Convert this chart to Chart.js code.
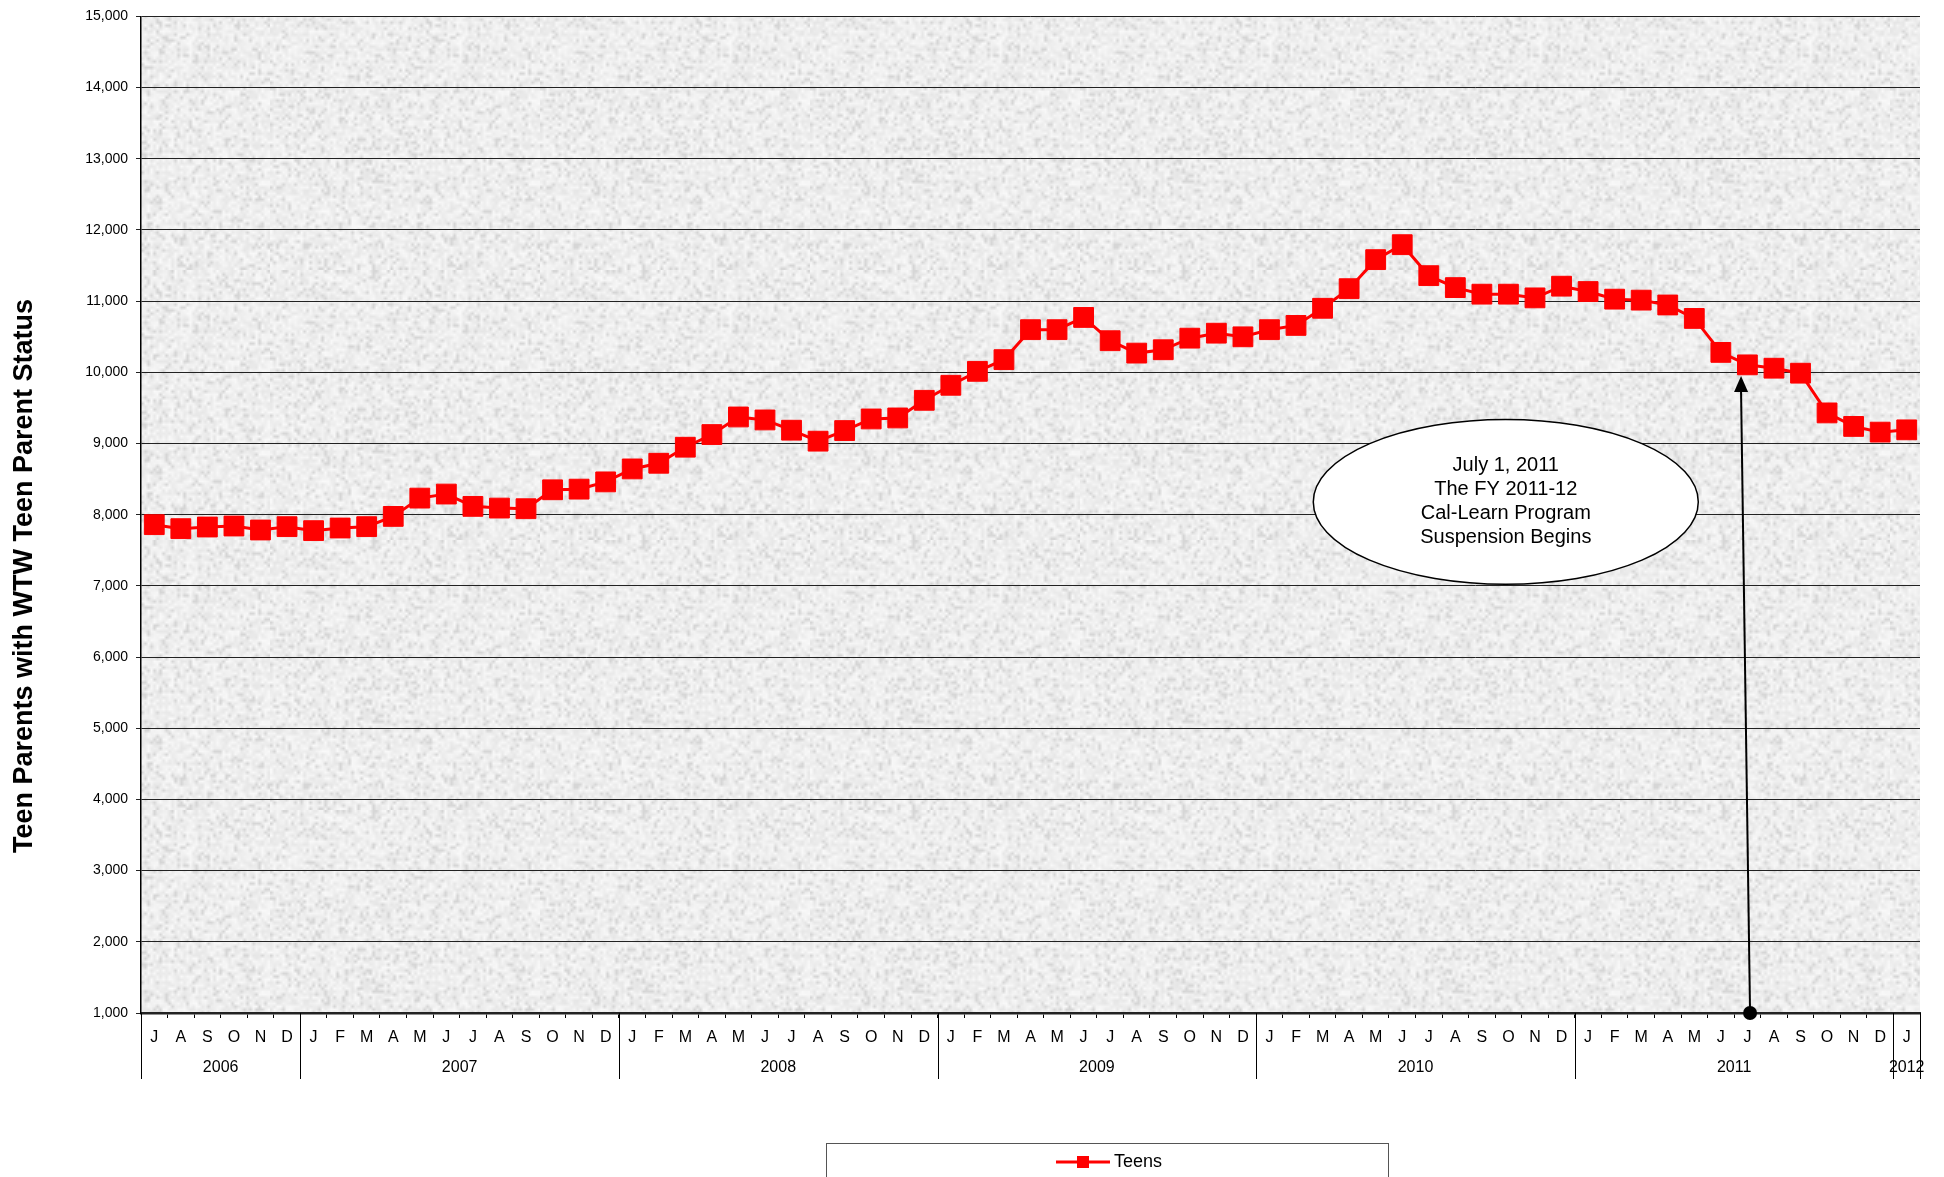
<!DOCTYPE html>
<html>
<head>
<meta charset="utf-8">
<script src="https://cdn.jsdelivr.net/npm/chart.js@4.4.1/dist/chart.umd.min.js"></script>
<style>
  html, body { margin: 0; padding: 0; background: #fff; overflow: hidden; }
  #wrap { width: 1944px; height: 1177px; }
</style>
</head>
<body>
<div id="wrap"><canvas id="myChart" width="1944" height="1177"></canvas></div>
<script>
// month letters, Jul 2006 .. Jan 2012
const months = [
  "J","A","S","O","N","D",
  "J","F","M","A","M","J","J","A","S","O","N","D",
  "J","F","M","A","M","J","J","A","S","O","N","D",
  "J","F","M","A","M","J","J","A","S","O","N","D",
  "J","F","M","A","M","J","J","A","S","O","N","D",
  "J","F","M","A","M","J","J","A","S","O","N","D",
  "J"
];
const years = ["2006", "2007", "2008", "2009", "2010", "2011", "2012"];
const monthsInYear = [6, 12, 12, 12, 12, 12, 1];

const teens = [
  7860, 7804, 7827, 7841, 7785, 7832,
  7776, 7813, 7832, 7976, 8233, 8290, 8117, 8093, 8084, 8350, 8359, 8461,
  8643, 8723, 8948, 9126, 9373, 9331, 9187, 9033, 9182, 9345, 9359, 9607,
  9818, 10014, 10178, 10599, 10599, 10771, 10444, 10270, 10317, 10480, 10550, 10499,
  10599, 10659, 10900, 11175, 11583, 11793, 11358, 11190, 11098, 11098, 11046, 11210,
  11135, 11028, 11014, 10946, 10757, 10280, 10105, 10058, 9988, 9430, 9240, 9160,
  9192
];

const yMin = 1000, yMax = 15000, yStep = 1000;

const noteLines = ["July 1, 2011", "The FY 2011-12", "Cal-Learn Program", "Suspension Begins"];
const notePos = { x: 50.9, y: 8180, rx: 7.25, ry: 1157 };   // ellipse centre / radii in data units
const arrowFrom = { x: 60.1, y: 1000 };
const arrowTo = { x: 59.76, y: 9950 };

const FONT = "'Liberation Sans', Arial, sans-serif";

// grey granite-ish texture for the plot area
function makeTexture() {
  const small = document.createElement("canvas");
  small.width = 90; small.height = 90;
  const g = small.getContext("2d");
  const img = g.createImageData(90, 90);
  let s = 98765;
  const next = () => { s = (s * 1103515245 + 12345) & 0x7fffffff; return s / 0x7fffffff; };
  for (let i = 0; i < 90 * 90; i++) {
    const r = next();
    const v = Math.round(238 + (r - 0.5) * 22 - (r < 0.12 ? 14 : 0));
    img.data[i * 4] = v; img.data[i * 4 + 1] = v; img.data[i * 4 + 2] = v; img.data[i * 4 + 3] = 255;
  }
  g.putImageData(img, 0, 0);
  const big = document.createElement("canvas");
  big.width = 270; big.height = 270;
  const bg = big.getContext("2d");
  bg.imageSmoothingEnabled = true;
  bg.drawImage(small, 0, 0, 270, 270);
  return big;
}
const texture = makeTexture();

const backgroundPlugin = {
  id: "plotBackground",
  beforeDraw(chart) {
    const { ctx, chartArea: a } = chart;
    ctx.save();
    ctx.fillStyle = ctx.createPattern(texture, "repeat");
    ctx.fillRect(a.left, a.top, a.right - a.left, a.bottom - a.top);
    ctx.restore();
  }
};

const notePlugin = {
  id: "note",
  afterDatasetsDraw(chart) {
    const { ctx } = chart;
    const x = chart.scales.x, y = chart.scales.y;

    // arrow from axis up to the July 2011 point
    const bx = x.getPixelForValue(arrowFrom.x), by = y.getPixelForValue(arrowFrom.y);
    const tx = x.getPixelForValue(arrowTo.x), ty = y.getPixelForValue(arrowTo.y);
    ctx.save();
    ctx.strokeStyle = "#000";
    ctx.fillStyle = "#000";
    ctx.lineWidth = 2;
    ctx.beginPath();
    ctx.moveTo(bx, by);
    ctx.lineTo(tx, ty + 14);
    ctx.stroke();
    ctx.beginPath();
    ctx.moveTo(tx, ty);
    ctx.lineTo(tx - 7, ty + 16);
    ctx.lineTo(tx + 7, ty + 16);
    ctx.closePath();
    ctx.fill();
    ctx.beginPath();
    ctx.arc(bx, by, 7, 0, Math.PI * 2);
    ctx.fill();

    // the callout ellipse
    const cx = x.getPixelForValue(notePos.x);
    const cy = y.getPixelForValue(notePos.y);
    const rx = Math.abs(x.getPixelForValue(notePos.x + notePos.rx) - cx);
    const ry = Math.abs(y.getPixelForValue(notePos.y + notePos.ry) - cy);
    ctx.beginPath();
    ctx.ellipse(cx, cy, rx, ry, 0, 0, Math.PI * 2);
    ctx.fillStyle = "#fff";
    ctx.fill();
    ctx.lineWidth = 1.5;
    ctx.stroke();
    ctx.fillStyle = "#000";
    ctx.font = "20px " + FONT;
    ctx.textAlign = "center";
    ctx.textBaseline = "middle";
    const lh = 24;
    noteLines.forEach((t, i) => {
      ctx.fillText(t, cx, cy + (i - (noteLines.length - 1) / 2) * lh);
    });
    ctx.restore();
  }
};

const axisExtrasPlugin = {
  id: "axisExtras",
  afterDraw(chart) {
    const { ctx, chartArea: a } = chart;
    const x = chart.scales.x;
    const half = (x.getPixelForValue(1) - x.getPixelForValue(0)) / 2;
    const lineBottom = a.bottom + 66;
    ctx.save();
    ctx.strokeStyle = "#000";
    ctx.lineWidth = 1;
    ctx.fillStyle = "#000";
    ctx.font = "16px " + FONT;
    ctx.textAlign = "center";
    ctx.textBaseline = "middle";
    let idx = 0;
    const edges = [x.getPixelForValue(0) - half];
    years.forEach((yr, i) => {
      const first = idx, last = idx + monthsInYear[i] - 1;
      const l = x.getPixelForValue(first) - half;
      const r = x.getPixelForValue(last) + half;
      edges.push(r);
      ctx.fillText(yr, (l + r) / 2, a.bottom + 55);
      idx += monthsInYear[i];
    });
    edges.forEach(px => {
      ctx.beginPath();
      ctx.moveTo(Math.round(px) + 0.5, a.bottom);
      ctx.lineTo(Math.round(px) + 0.5, lineBottom);
      ctx.stroke();
    });

    // y axis title
    ctx.save();
    ctx.translate(25, 576);
    ctx.rotate(-Math.PI / 2);
    ctx.font = "bold 27px " + FONT;
    ctx.fillText("Teen Parents with WTW Teen Parent Status", 0, 0);
    ctx.restore();

    // legend box (runs off the bottom of the picture)
    ctx.lineWidth = 1;
    ctx.strokeStyle = "#555";
    ctx.strokeRect(826.5, 1143.5, 562, 60);
    ctx.strokeStyle = "#ff0000";
    ctx.lineWidth = 3;
    ctx.beginPath();
    ctx.moveTo(1056, 1162);
    ctx.lineTo(1110, 1162);
    ctx.stroke();
    ctx.fillStyle = "#ff0000";
    ctx.fillRect(1077, 1156, 12, 12);
    ctx.fillStyle = "#000";
    ctx.font = "18px " + FONT;
    ctx.textAlign = "left";
    ctx.fillText("Teens", 1114, 1162);
    ctx.restore();
  }
};

new Chart(document.getElementById("myChart"), {
  type: "line",
  data: {
    labels: months,
    datasets: [{
      label: "Teens",
      data: teens,
      borderColor: "#ff0000",
      backgroundColor: "#ff0000",
      borderWidth: 3,
      pointStyle: "rect",
      pointRadius: 14,
      pointBackgroundColor: "#ff0000",
      pointBorderColor: "#ff0000",
      pointBorderWidth: 1,
      tension: 0
    }]
  },
  options: {
    responsive: false,
    animation: false,
    events: [],
    layout: { padding: { top: 15, right: 24, left: 0, bottom: 0 } },
    plugins: {
      legend: { display: false },
      tooltip: { enabled: false }
    },
    scales: {
      x: {
        offset: true,
        afterFit: s => { s.height = 164; },
        grid: {
          offset: true,
          drawOnChartArea: false,
          drawTicks: true,
          tickLength: 5,
          color: "#000"
        },
        border: { display: true, color: "#222", width: 2.5 },
        ticks: {
          autoSkip: false,
          maxRotation: 0,
          padding: 10,
          color: "#000",
          font: { family: FONT, size: 16 }
        }
      },
      y: {
        min: yMin,
        max: yMax,
        afterFit: s => { s.width = 141; },
        grid: { color: "#222", lineWidth: 1, tickLength: 5 },
        border: { display: true, color: "#000", width: 1.5 },
        ticks: {
          stepSize: yStep,
          padding: 8,
          color: "#000",
          font: { family: FONT, size: 14 },
          callback: v => v.toLocaleString("en-US")
        }
      }
    }
  },
  plugins: [backgroundPlugin, notePlugin, axisExtrasPlugin]
});
</script>
</body>
</html>
